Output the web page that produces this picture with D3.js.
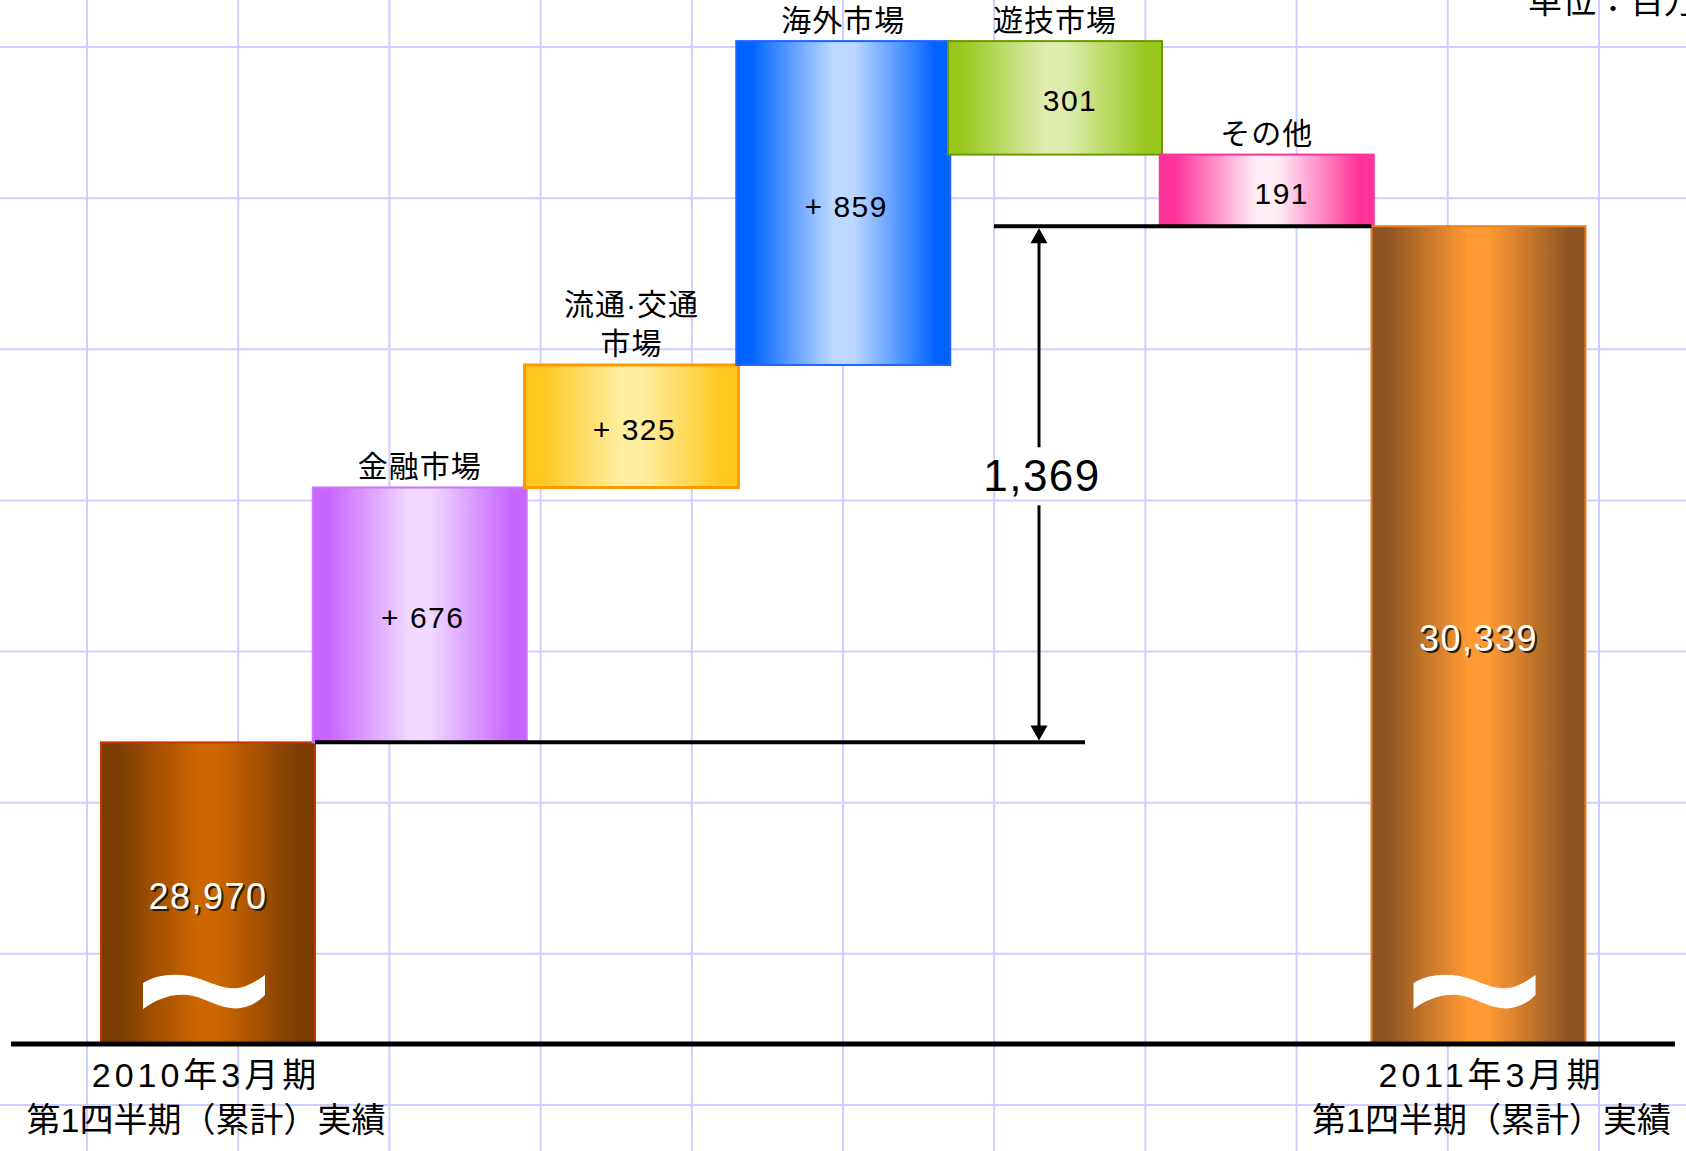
<!DOCTYPE html>
<html><head><meta charset="utf-8">
<script src="https://cdn.jsdelivr.net/npm/d3@7"></script>
<style>html,body{margin:0;padding:0;background:#fff;} svg{display:block}</style>
</head><body>
<svg id="chart" width="1686" height="1151"></svg>
<script>
// ---------- data ----------
const categories = ["2010年3月期|第1四半期（累計）実績", "金融市場", "流通·交通|市場", "海外市場", "遊技市場", "その他", "2011年3月期|第1四半期（累計）実績"];
const barTypes = ["total", "delta", "delta", "delta", "delta", "delta", "total"];
const values = [28970, 676, 325, 859, -301, -191, 30339];
const valueLabels = ["28,970", "+ 676", "+ 325", "+ 859", "301", "191", "30,339"];
const differenceLabel = "1,369";
const unitLabel = "単位：百万円";

// ---------- styles ----------
const edgeColors   = ["#7a3c00", "#c864ff", "#ffc81e", "#0063ff", "#98c81e", "#ff3399", "#8c5422"];
const centerColors = ["#cc6600", "#f0d8ff", "#ffeda0", "#bcd8ff", "#dfedb0", "#ffeef6", "#ff9933"];
const borderColors = ["#cc3300", "#cc77ff", "#ff9900", "#1a66ff", "#6a9a00", "#ff3399", "#e88020"];
const labelShift   = [-2, 0, 0, 0, 0, 0, 13];
const FONT = "'Liberation Sans', Arial, 'Noto Sans CJK JP', sans-serif";

const W = 1686, H = 1151;
const svg = d3.select("#chart");
const baseY = 1044;

// scales
const y = d3.scaleLinear().domain([28170, 31000]).range([baseY, -23]);
const x = d3.scalePoint().domain(categories).range([208, 1478.5]);
const barW = 214;

// background grid
const gx = d3.scaleLinear().domain([0, 10]).range([87, 1599]);
const gy = d3.scaleLinear().domain([0, 7]).range([47, 1105]);
const grid = svg.append("g");
grid.selectAll("line.v").data(d3.range(0, 11)).join("line")
  .attr("x1", d => gx(d)).attr("x2", d => gx(d)).attr("y1", 0).attr("y2", H)
  .attr("stroke", "#cfcfff").attr("stroke-width", 2);
grid.selectAll("line.h").data(d3.range(0, 8)).join("line")
  .attr("y1", d => gy(d)).attr("y2", d => gy(d)).attr("x1", 0).attr("x2", W)
  .attr("stroke", "#cfcfff").attr("stroke-width", 2);

// compute waterfall
let run = 0;
const bars = categories.map((c, i) => {
  let s, e;
  if (barTypes[i] === "total") { s = y.domain()[0]; e = values[i]; run = values[i]; }
  else { s = run; e = run + values[i]; run = e; }
  return {c, i, s, e, type: barTypes[i], v: values[i]};
});

// gradients
const defs = svg.append("defs");
bars.forEach(b => {
  const g = defs.append("linearGradient").attr("id", "grad" + b.i)
    .attr("x1", "0").attr("x2", "1").attr("y1", "0").attr("y2", "0");
  [[0, edgeColors[b.i]], [0.07, edgeColors[b.i]], [0.45, centerColors[b.i]], [0.55, centerColors[b.i]], [0.93, edgeColors[b.i]], [1, edgeColors[b.i]]]
    .forEach(([o, col]) => g.append("stop").attr("offset", o).attr("stop-color", col));
});

// bars
svg.append("g").selectAll("rect").data(bars).join("rect")
  .attr("x", d => x(d.c) - barW / 2)
  .attr("y", d => Math.min(y(d.s), y(d.e)))
  .attr("width", barW)
  .attr("height", d => Math.abs(y(d.s) - y(d.e)))
  .attr("fill", d => `url(#grad${d.i})`)
  .attr("stroke", d => borderColors[d.i])
  .attr("stroke-width", d => d.i === 2 ? 3 : 2);

// tilde break marks on totals
const tildePath = "M0,8 C15,-2 40,-3 60,5 C75,11 90,17 105,10 C112,7 118,3 122,0 L122,20 C112,30 100,35 87,33 C72,31 60,22 45,20 C28,18 12,25 0,34 Z";
svg.append("g").selectAll("path").data(bars.filter(b => b.type === "total")).join("path")
  .attr("d", tildePath)
  .attr("transform", d => `translate(${x(d.c) - 65},${baseY - 69})`)
  .attr("fill", "#fff");

// value labels
const vl = svg.append("g").attr("font-family", FONT).attr("text-anchor", "middle");
bars.forEach(b => {
  const mid = (y(b.s) + y(b.e)) / 2 + 3;
  const cx = x(b.c) + (b.type === "total" ? 0 : (b.v < 0 ? 15 : 3));
  if (b.type === "total") {
    vl.append("text").attr("x", cx + 2).attr("y", mid + 2).attr("dominant-baseline", "central")
      .attr("font-size", 36).attr("letter-spacing", 1.5).attr("fill", "#2a1a0a").text(valueLabels[b.i]);
    vl.append("text").attr("x", cx).attr("y", mid).attr("dominant-baseline", "central")
      .attr("font-size", 36).attr("letter-spacing", 1.5).attr("fill", "#fff").text(valueLabels[b.i]);
  } else {
    vl.append("text").attr("x", cx).attr("y", mid).attr("dominant-baseline", "central")
      .attr("font-size", 30).attr("letter-spacing", 1.5).attr("fill", "#000").text(valueLabels[b.i]);
  }
});

// category labels above delta bars
const cl = svg.append("g").attr("font-family", FONT).attr("text-anchor", "middle").attr("fill", "#000");
bars.filter(b => b.type === "delta").forEach(b => {
  const top = Math.min(y(b.s), y(b.e));
  const lines = b.c.split("|");
  lines.forEach((ln, k) => {
    cl.append("text").attr("x", x(b.c)).attr("y", top - 21 - (lines.length - 1 - k) * 39)
      .attr("dominant-baseline", "central").attr("font-size", 30).attr("letter-spacing", 1).text(ln);
  });
});

// x-axis labels under totals
bars.filter(b => b.type === "total").forEach(b => {
  const lines = b.c.split("|");
  lines.forEach((ln, k) => {
    cl.append("text").attr("x", x(b.c) + labelShift[b.i]).attr("y", 1075 + k * 45)
      .attr("dominant-baseline", "central").attr("font-size", 34)
      .attr("letter-spacing", k === 0 ? 4 : 0).text(ln);
  });
});

// connector lines
const first = bars[0], last = bars[bars.length - 1];
const yLow = y(first.e), yHigh = y(last.e);
const arrowX = 1039;
svg.append("line").attr("x1", x(first.c) + barW / 2).attr("x2", 1085)
  .attr("y1", yLow).attr("y2", yLow).attr("stroke", "#000").attr("stroke-width", 4);
svg.append("line").attr("x1", 994).attr("x2", x(last.c) - barW / 2)
  .attr("y1", yHigh).attr("y2", yHigh).attr("stroke", "#000").attr("stroke-width", 4);

// dimension arrow
const midY = (yLow + yHigh) / 2 - 6;
const ag = svg.append("g");
ag.append("line").attr("x1", arrowX).attr("x2", arrowX).attr("y1", yHigh + 10).attr("y2", midY - 31)
  .attr("stroke", "#000").attr("stroke-width", 3);
ag.append("line").attr("x1", arrowX).attr("x2", arrowX).attr("y1", midY + 27).attr("y2", yLow - 10)
  .attr("stroke", "#000").attr("stroke-width", 3);
ag.append("path").attr("d", d3.line()([[arrowX, yHigh + 2], [arrowX - 8.5, yHigh + 17], [arrowX + 8.5, yHigh + 17]]) + "Z").attr("fill", "#000");
ag.append("path").attr("d", d3.line()([[arrowX, yLow - 2], [arrowX - 8.5, yLow - 17], [arrowX + 8.5, yLow - 17]]) + "Z").attr("fill", "#000");
svg.append("text").attr("x", arrowX + 3).attr("y", midY - 3).attr("dominant-baseline", "central")
  .attr("text-anchor", "middle").attr("font-family", FONT).attr("font-size", 44).attr("letter-spacing", 1.5)
  .attr("fill", "#000").text(differenceLabel);

// baseline
svg.append("line").attr("x1", 11).attr("x2", 1675).attr("y1", baseY).attr("y2", baseY)
  .attr("stroke", "#000").attr("stroke-width", 5);

// unit label (partially cut off at top-right, as in the reference)
svg.append("text").attr("x", 1528).attr("y", 13).attr("font-family", FONT).attr("font-size", 34)
  .attr("fill", "#000").text(unitLabel);
</script>
</body></html>
